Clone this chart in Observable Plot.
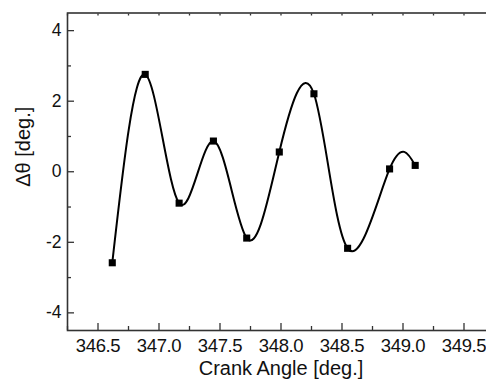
<!DOCTYPE html>
<html>
<head>
<meta charset="utf-8">
<script src="https://cdn.jsdelivr.net/npm/d3@7"></script>
<script src="https://cdn.jsdelivr.net/npm/@observablehq/plot@0.6"></script>
<style>
  html, body { margin: 0; padding: 0; background: #fff; overflow: hidden; }
  #chart svg { display: block; font-family: "Liberation Sans", Arial, sans-serif; }
</style>
</head>
<body>
<div id="chart"></div>
<script>
// Data
const crankAngle = [346.617, 346.887, 347.165, 347.446, 347.719, 347.986, 348.27, 348.546, 348.89, 349.10];
const deltaTheta = [-2.58, 2.76, -0.89, 0.87, -1.88, 0.56, 2.21, -2.17, 0.08, 0.18];
const xTicks = [346.5, 347.0, 347.5, 348.0, 348.5, 349.0, 349.5];
const xMinorTicks = [346.25, 346.75, 347.25, 347.75, 348.25, 348.75, 349.25, 349.75];
const yTicks = [-4, -2, 0, 2, 4];
const yMinorTicks = [-3, -1, 1, 3];
const xTitle = "Crank Angle [deg.]";
const yTitle = "Δθ [deg.]";

const data = crankAngle.map((x, i) => ({x, y: deltaTheta[i]}));
const spine = "#333";

const plot = Plot.plot({
  width: 486,
  height: 386,
  marginLeft: 67,
  marginRight: -8,
  marginTop: 12.5,
  marginBottom: 56,
  style: {fontFamily: "'Liberation Sans', Arial, sans-serif", background: "#fff", color: "#000"},
  x: {domain: [346.25, 349.75]},
  y: {domain: [-4.5, 4.5]},
  marks: [
    // inward ticks, bottom
    Plot.axisX(xTicks, {anchor: "bottom", tickSize: 7, dy: -7, fill: "none", stroke: spine, strokeWidth: 1.3, label: null}),
    Plot.axisX(xMinorTicks, {anchor: "bottom", tickSize: 4, dy: -4, fill: "none", stroke: spine, strokeWidth: 1.3, label: null}),
    // inward ticks, top
    Plot.axisX(xTicks.concat(xMinorTicks), {anchor: "top", tickSize: 2, dy: 2, fill: "none", stroke: spine, strokeWidth: 1.3, label: null}),
    // inward ticks, left
    Plot.axisY(yTicks, {anchor: "left", tickSize: 7, dx: 7, fill: "none", stroke: spine, strokeWidth: 1.3, label: null}),
    Plot.axisY(yMinorTicks, {anchor: "left", tickSize: 4, dx: 4, fill: "none", stroke: spine, strokeWidth: 1.3, label: null}),
    // tick labels
    Plot.axisX(xTicks, {anchor: "bottom", tickSize: 0, tickPadding: 8, fontSize: 18.5, label: null, tickFormat: d => d.toFixed(1), fill: "#111"}),
    Plot.axisY(yTicks, {anchor: "left", tickSize: 0, tickPadding: 6, fontSize: 17.5, label: null, tickFormat: d => String(d), fill: "#111"}),
    Plot.frame({stroke: spine, strokeWidth: 1.6}),
    Plot.line(data, {x: "x", y: "y", curve: "natural", stroke: "#000", strokeWidth: 2}),
    Plot.dot(data, {x: "x", y: "y", symbol: "square", r: 4, fill: "#000", stroke: "none"}),
    Plot.text([xTitle], {text: d => d, frameAnchor: "bottom", dy: 44.5, fontSize: 20, fill: "#111"}),
    Plot.text([yTitle], {text: d => d, frameAnchor: "left", rotate: -90, dx: -44, dy: 15, fontSize: 20, fill: "#111"})
  ]
});
plot.querySelectorAll("text").forEach(t => { if (/^\d{3}\.\d$/.test(t.textContent)) t.style.letterSpacing = "-0.4px"; });
document.getElementById("chart").appendChild(plot);
</script>
</body>
</html>
